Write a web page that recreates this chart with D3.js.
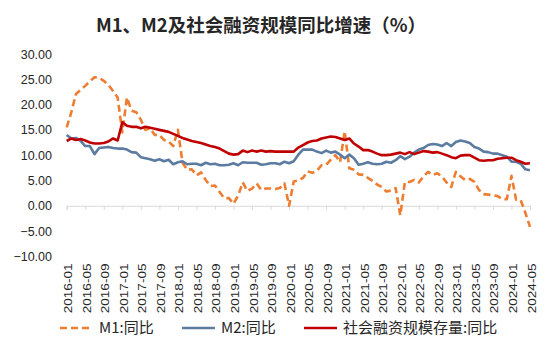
<!DOCTYPE html>
<html><head><meta charset="utf-8">
<script src="https://cdn.jsdelivr.net/npm/d3@7"></script>
<style>body{margin:0;background:#fff}svg{display:block}</style>
</head><body>
<script>
const months = [];
for (let y = 2016; y <= 2024; y++) for (let m = 1; m <= 12; m++) { if (y === 2024 && m > 5) break; months.push(y + "-" + String(m).padStart(2, "0")); }

const m1 = [
15.5,18.5,22.1,22.9,23.7,24.6,25.4,25.3,24.7,23.9,22.7,21.4,
14.5,21.4,18.8,18.5,17.0,15.0,15.3,14.0,14.0,13.0,12.7,11.8,
15.0,8.5,7.1,7.2,6.0,6.6,5.1,3.9,4.0,2.7,1.5,1.5,
0.4,2.0,4.6,2.9,3.4,4.4,3.1,3.4,3.4,3.3,3.5,4.4,
0.0,4.8,5.0,5.5,6.8,6.5,6.9,8.0,8.1,9.1,10.0,8.6,
14.7,7.4,7.1,6.2,6.1,5.5,4.9,4.2,3.7,2.8,3.0,3.5,
-1.9,4.7,4.7,5.1,4.6,5.8,6.7,6.1,6.4,5.8,4.6,3.7,
6.7,5.8,5.1,5.3,4.7,3.1,2.3,2.2,2.1,1.9,1.3,1.3,
5.9,1.2,1.1,-1.4,-4.2];

const m2 = [
14.0,13.3,13.4,12.8,11.8,11.8,10.2,11.4,11.5,11.6,11.4,11.3,
11.3,11.1,10.6,10.5,9.6,9.4,9.2,8.9,9.2,8.8,9.1,8.2,
8.6,8.8,8.2,8.3,8.3,8.0,8.5,8.2,8.3,8.0,8.0,8.1,
8.4,8.0,8.6,8.5,8.5,8.5,8.1,8.2,8.4,8.4,8.2,8.7,
8.4,8.8,10.1,11.1,11.1,11.1,10.7,10.4,10.9,10.5,10.7,10.1,
9.4,10.1,9.4,8.1,8.3,8.6,8.3,8.2,8.3,8.7,8.5,9.0,
9.8,9.2,9.7,10.5,11.1,11.4,12.0,12.2,12.1,11.8,12.4,11.8,
12.6,12.9,12.7,12.4,11.6,11.3,10.7,10.6,10.3,10.3,10.0,9.7,
8.7,8.7,8.3,7.2,7.0];

const tsf = [
12.8,13.3,13.0,13.2,12.9,12.5,12.3,12.3,12.4,12.7,13.3,12.9,
16.5,15.8,15.6,15.6,15.3,15.6,15.4,15.2,15.0,14.8,14.6,14.2,
13.8,13.4,13.1,12.8,12.6,12.4,12.1,11.8,11.6,11.3,10.8,10.3,
10.1,10.2,10.9,10.6,10.9,10.7,10.9,10.7,10.8,10.7,10.7,10.7,
10.7,10.7,11.5,12.0,12.5,12.8,12.9,13.3,13.5,13.7,13.6,13.3,
13.0,13.3,12.3,11.7,11.0,11.0,10.7,10.3,10.0,10.0,10.1,10.3,
10.5,10.2,10.6,10.2,10.5,10.8,10.7,10.5,10.6,10.3,10.0,9.6,
9.4,9.9,10.0,10.0,9.5,9.0,8.9,9.0,9.0,9.3,9.4,9.5,
9.5,9.0,8.7,8.3,8.4];

const yTicks = [30, 25, 20, 15, 10, 5, 0, -5, -10];
const xTickLabels = months.filter((d, i) => i % 4 === 0);
const seriesNames = ["M1:同比", "M2:同比", "社会融资规模存量:同比"];
const titleText = "M1、M2及社会融资规模同比增速（%）";

const W = 551, H = 357;
const svg = d3.select("body").append("svg").attr("width", W).attr("height", H);
const font = "'Liberation Sans', Arial, 'Noto Sans CJK SC', sans-serif";
const cjk = "'Noto Sans CJK SC', 'Liberation Sans', sans-serif";

const x = d3.scalePoint().domain(months).range([66.7, 530]);
const y = d3.scaleLinear().domain([-10, 30]).range([256.3, 54]);

svg.append("text").attr("x", 261).attr("y", 32).attr("text-anchor", "middle")
  .attr("font-family", cjk).attr("font-size", 18.5).attr("font-weight", "bold")
  .attr("fill", "#262626").text(titleText);

// y axis labels
const ya = svg.append("g").attr("transform", "translate(52,0)")
  .call(d3.axisLeft(y).tickValues(yTicks).tickFormat(d3.format(".2f")).tickSize(0).tickPadding(0));
ya.select(".domain").remove();
ya.selectAll("text").attr("font-family", font).attr("font-size", 12.5).attr("fill", "#262626");

// x axis at zero
const xa = svg.append("g").attr("transform", `translate(0,${y(0)})`)
  .call(d3.axisBottom(x).tickValues(xTickLabels).tickSize(4).tickFormat(""));
xa.select(".domain").attr("stroke", "#d9d9d9").attr("stroke-width", 1.2);
xa.selectAll(".tick line").attr("stroke", "#d9d9d9");

// rotated x labels
const xl = svg.append("g").attr("transform", "translate(0,263.5)");
xl.selectAll("text").data(xTickLabels).join("text")
  .attr("transform", d => `translate(${x(d) + 1.5},0) rotate(-90) scale(1.18,1)`)
  .attr("text-anchor", "end").attr("dy", "0.35em")
  .attr("font-family", font).attr("font-size", 11.5).attr("fill", "#262626")
  .text(d => d);

const line = d3.line().x((d, i) => x(months[i])).y(d => y(d));
const series = [
  {v: m1, c: "#ED7D31", dash: "7,4"},
  {v: m2, c: "#5B7BA0", dash: null},
  {v: tsf, c: "#C00000", dash: null}
];
series.forEach(s => {
  svg.append("path").datum(s.v).attr("d", line).attr("fill", "none")
    .attr("stroke", s.c).attr("stroke-width", 2.6)
    .attr("stroke-dasharray", s.dash).attr("stroke-linejoin", "round");
});

// legend
const lg = [[60, 99], [182, 221], [304, 343]];
series.forEach((s, i) => {
  svg.append("line").attr("x1", lg[i][0]).attr("x2", lg[i][0] + 33).attr("y1", 328).attr("y2", 328)
    .attr("stroke", s.c).attr("stroke-width", 2.6).attr("stroke-dasharray", s.dash);
  svg.append("text").attr("x", lg[i][1]).attr("y", 328).attr("dy", "0.35em")
    .attr("font-family", cjk).attr("font-size", 15).attr("fill", "#262626").text(seriesNames[i]);
});
</script>
</body></html>
